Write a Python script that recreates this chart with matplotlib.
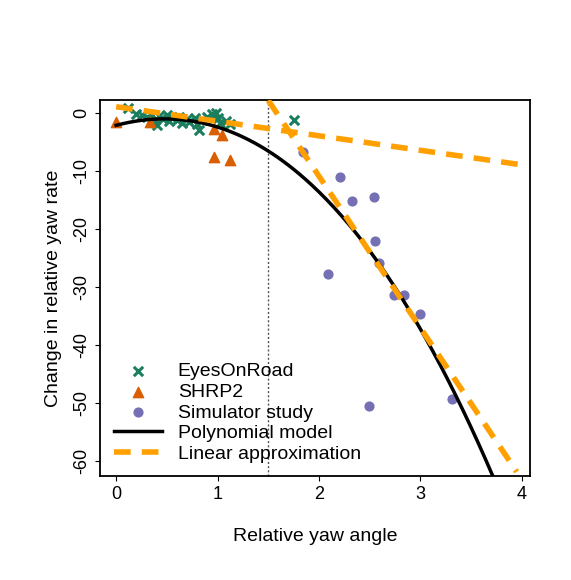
import numpy as np
import matplotlib.pyplot as plt

plt.rcParams['font.family'] = ['Liberation Sans', 'DejaVu Sans']
plt.rcParams['axes.unicode_minus'] = False

# EyesOnRoad observations
eor_x = [0.12, 0.2, 0.25, 0.3, 0.35, 0.38, 0.4, 0.42, 0.45, 0.5, 0.52, 0.55, 0.6, 0.62,
         0.65, 0.7, 0.72, 0.78, 0.8, 0.82, 0.85, 0.9, 0.95, 0.98, 1.0, 1.02, 1.08, 1.12, 1.75]
eor_y = [0.8, -0.3, -0.5, -0.8, -0.4, -1.2, -2.2, -0.6, -1.0, -0.5, -1.5, -0.9, -1.3, -0.7,
         -1.8, -1.1, -1.6, -0.9, -2.0, -3.0, -1.3, -0.8, -0.3, -0.1, -1.0, -1.8, -1.5, -2.0, -1.3]
# SHRP2 observations
shrp_x = [0.0, 0.33, 0.96, 1.04, 0.96, 1.12]
shrp_y = [-1.7, -1.6, -2.9, -3.8, -7.6, -8.1]
# Simulator study
sim_x = [1.84, 2.21, 2.33, 2.54, 2.55, 2.59, 2.09, 2.74, 2.84, 3.0, 3.31, 2.49]
sim_y = [-6.8, -11.1, -15.3, -14.6, -22.1, -25.9, -27.8, -31.4, -31.4, -34.6, -49.3, -50.5]

# polynomial model coefficients (constant, x, x^2, x^3)
poly_coef = [-2.2, 4.609, -4.648, -0.261]
poly_xmax = 3.72
# linear approximations: (x0, x1, intercept, slope)
lin1 = (0.0, 4.0, 1.0, -2.5)
lin2 = (1.5, 3.95, 2.1, -26.1)
split_x = 1.5

fig = plt.figure(figsize=(5.71, 5.80), dpi=100)
ax = fig.add_axes([0.175, 0.179, 0.753, 0.649])

ax.axvline(split_x, color='#555555', ls=(0, (1.5, 1.5)), lw=1)
ax.scatter(eor_x, eor_y, marker='x', s=45, color='#1b7f5f', linewidths=2.2, label='EyesOnRoad', zorder=3)
ax.scatter(shrp_x, shrp_y, marker='^', s=55, color='#d95f02', label='SHRP2', zorder=3)
ax.scatter(sim_x, sim_y, marker='o', s=40, color='#7570b3', label='Simulator study', zorder=3)

xs = np.linspace(0, poly_xmax, 200)
ys = np.polyval(poly_coef[::-1], xs)
ax.plot(xs, ys, color='black', lw=2.5, label='Polynomial model', zorder=4)

for i, (x0, x1, b, m) in enumerate([lin1, lin2]):
    lx = np.array([x0, x1])
    ly = b + m * (lx - x0)
    ax.plot(lx, ly, color='#ffa000', lw=4, ls=(0, (3, 2)), zorder=5,
            label='Linear approximation' if i == 0 else None)

for s in ax.spines.values():
    s.set_linewidth(1.3)
ax.set_xlim(-0.16, 4.08)
ax.set_ylim(-62.6, 2.2)
ax.set_xticks([0, 1, 2, 3, 4])
ax.set_yticks([0, -10, -20, -30, -40, -50, -60])
ax.tick_params(axis='y', labelrotation=90, labelsize=13)
ax.tick_params(axis='x', labelsize=13)
for lab in ax.get_yticklabels():
    lab.set_va('center')
ax.set_xlabel('Relative yaw angle', fontsize=14, labelpad=18)
ax.set_ylabel('Change in relative yaw rate', fontsize=14, labelpad=8)
ax.legend(loc='lower left', frameon=False, fontsize=14, handlelength=2.5,
          borderaxespad=0.3, labelspacing=0.15)

fig.savefig('out.png', dpi=100)
